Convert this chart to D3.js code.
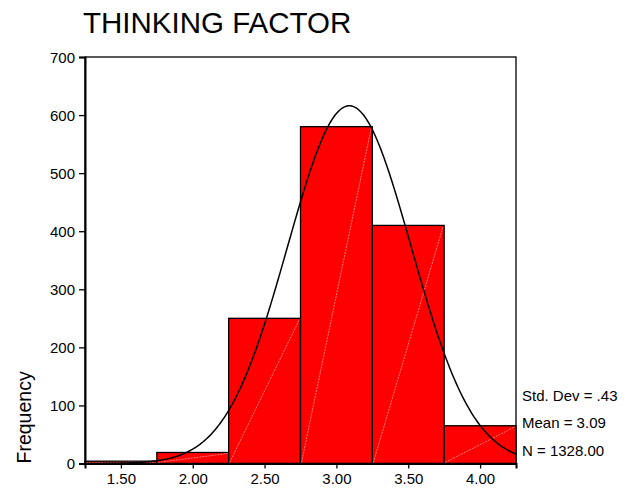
<!DOCTYPE html>
<html>
<head>
<meta charset="utf-8">
<script src="https://cdn.jsdelivr.net/npm/d3@7"></script>
<style>
  html, body { margin: 0; padding: 0; background: #fff; }
  svg { display: block; font-family: "Liberation Sans", Arial, sans-serif; }
</style>
</head>
<body>
<svg id="chart" width="630" height="490"></svg>
<script>
// Histogram bins (midpoints) and counts
const binMids = [1.5, 2.0, 2.5, 3.0, 3.5, 4.0];
const counts = [4, 19, 250, 580, 410, 65];
const binWidth = 0.5;
const xTicks = [1.5, 2.0, 2.5, 3.0, 3.5, 4.0];
const yTicks = [0, 100, 200, 300, 400, 500, 600, 700];
const statLabels = ["Std. Dev = .43", "Mean = 3.09", "N = 1328.00"];
const stdDev = 0.43, mean = 3.09, total = 1328;

const svg = d3.select("#chart");
const plotLeft = 85, plotRight = 516, plotTop = 57, plotBottom = 463.5;

const x = d3.scaleLinear().domain([1.25, 4.25]).range([plotLeft, plotRight]);
const y = d3.scaleLinear().domain([0, 700]).range([plotBottom, plotTop]);

// Title
svg.append("text")
  .attr("x", 83).attr("y", 33)
  .attr("font-size", 29.5)
  .attr("fill", "#000")
  .text("THINKING FACTOR");

// Bars
const bars = svg.append("g");
binMids.forEach((m, i) => {
  const x0 = x(m - binWidth / 2), x1 = x(m + binWidth / 2);
  const yTop = y(counts[i]);
  bars.append("rect")
    .attr("x", x0).attr("y", yTop)
    .attr("width", x1 - x0).attr("height", y(0) - yTop)
    .attr("fill", "#ff0000")
    .attr("stroke", "#000").attr("stroke-width", 1.3);
  bars.append("line")
    .attr("x1", x0 + 1).attr("y1", y(0) - 1)
    .attr("x2", x1 - 1).attr("y2", yTop + 1)
    .attr("stroke", "#ff9c9c").attr("stroke-width", 0.8)
    .attr("stroke-dasharray", "2,1");
});

// Fitted normal curve scaled to the counts
const scale = total * binWidth / (stdDev * Math.sqrt(2 * Math.PI));
const curvePts = d3.range(1.25, 4.2501, 0.01).map(v => {
  const z = (v - mean) / stdDev;
  return [v, scale * Math.exp(-0.5 * z * z)];
});
svg.append("path")
  .datum(curvePts)
  .attr("fill", "none")
  .attr("stroke", "#000")
  .attr("stroke-width", 1.5)
  .attr("d", d3.line().x(d => x(d[0])).y(d => y(d[1])));

// Frame
svg.append("rect")
  .attr("x", plotLeft).attr("y", plotTop)
  .attr("width", plotRight - plotLeft).attr("height", plotBottom - plotTop)
  .attr("fill", "none").attr("stroke", "#000").attr("stroke-width", 1.3);

// Axes
const yAxis = d3.axisLeft(y).tickValues(yTicks).tickSize(6).tickPadding(4)
  .tickFormat(d3.format("d"));
const gy = svg.append("g").attr("transform", `translate(${plotLeft},0)`).call(yAxis);
const xAxis = d3.axisBottom(x).tickValues(xTicks).tickSize(5).tickPadding(5)
  .tickFormat(d3.format(".2f"));
const gx = svg.append("g").attr("transform", `translate(0,${plotBottom})`).call(xAxis);
[gy, gx].forEach(g => {
  g.select(".domain").attr("stroke", "#000").attr("stroke-width", 2);
  g.selectAll(".tick line").attr("stroke", "#000").attr("stroke-width", 1.3);
  g.selectAll(".tick text").attr("font-size", 15).attr("fill", "#000")
    .attr("font-family", "'Liberation Sans', Arial, sans-serif");
});
gy.selectAll(".tick text").attr("dy", "0.36em");

// Y axis title
svg.append("text")
  .attr("transform", `translate(31,${plotBottom}) rotate(-90)`)
  .attr("font-size", 19.5)
  .attr("fill", "#000")
  .text("Frequency");

// Summary statistics
svg.append("g").selectAll("text")
  .data(statLabels)
  .join("text")
  .attr("x", 522)
  .attr("y", (d, i) => 400.5 + i * 27.8)
  .attr("font-size", 15)
  .attr("fill", "#000")
  .text(d => d);
</script>
</body>
</html>
